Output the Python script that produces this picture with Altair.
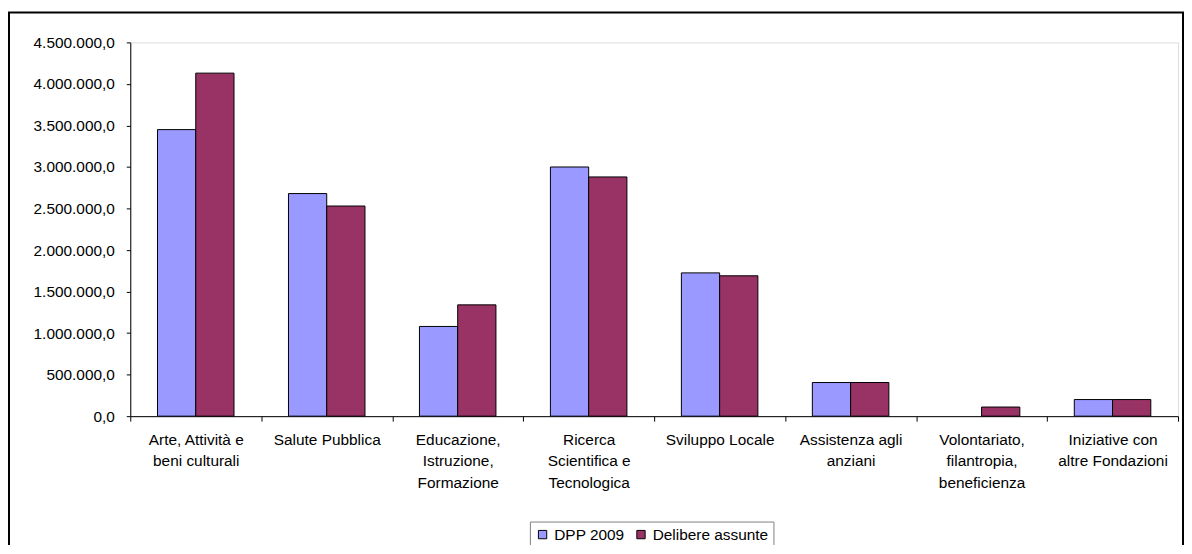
import altair as alt
import pandas as pd

categories = [
    "Arte, Attività e|beni culturali",
    "Salute Pubblica",
    "Educazione,|Istruzione,|Formazione",
    "Ricerca|Scientifica e|Tecnologica",
    "Sviluppo Locale",
    "Assistenza agli|anziani",
    "Volontariato,|filantropia,|beneficienza",
    "Iniziative con|altre Fondazioni",
]
series = ["DPP 2009", "Delibere assunte"]
dpp_2009 = [3450000, 2680000, 1080000, 3000000, 1725000, 405000, 0, 200000]
delibere = [4130000, 2530000, 1340000, 2880000, 1690000, 405000, 110000, 200000]
colors = ["#9999FF", "#993366"]
y_ticks = [0, 500000, 1000000, 1500000, 2000000, 2500000, 3000000, 3500000, 4000000, 4500000]

rows = []
for i, c in enumerate(categories):
    rows.append({"cat": c, "serie": series[0], "val": dpp_2009[i]})
    rows.append({"cat": c, "serie": series[1], "val": delibere[i]})
df = pd.DataFrame(rows)

W, H = 1054, 376
FONT = "Liberation Sans"

y_label = ("replace(replace(replace(format(datum.value, ',.1f'), '.', ';'), "
           "regexp(',', 'g'), '.'), ';', ',')")

bars = alt.Chart(df).transform_filter("datum.val > 0").mark_bar(
    stroke="black", strokeWidth=1
).encode(
    x=alt.X(
        "cat:N", sort=categories,
        scale=alt.Scale(domain=categories, paddingInner=0, paddingOuter=0),
        axis=alt.Axis(
            title=None, labelAngle=0, labelExpr="split(datum.label, '|')",
            labelFont=FONT, labelFontSize=15.5, labelColor="black",
            labelPadding=11, labelLineHeight=22, labelBaseline="top",
            tickBand="extent", tickSize=5, tickColor="black",
            domainColor="black", labelLimit=200,
        ),
    ),
    xOffset=alt.XOffset("serie:N", sort=series,
                        scale=alt.Scale(domain=series, paddingInner=0, paddingOuter=0.712)),
    y=alt.Y(
        "val:Q",
        scale=alt.Scale(domain=[0, 4500000], nice=False),
        axis=alt.Axis(
            title=None, values=y_ticks, labelExpr=y_label, grid=False,
            labelFont=FONT, labelFontSize=15.5, labelColor="black",
            labelPadding=12, tickSize=4, tickColor="black", domainColor="black",
        ),
    ),
    color=alt.Color(
        "serie:N", sort=series,
        scale=alt.Scale(domain=series, range=colors),
        legend=alt.Legend(
            title=None, orient="none", legendX=402, legendY=482,
            direction="horizontal", strokeColor="#808080", padding=5,
            symbolType="square", symbolSize=70, symbolStrokeColor="black",
            symbolStrokeWidth=1, labelFont=FONT, labelFontSize=15.5,
            labelColor="black", columnPadding=8,
        ),
    ),
)

frame = alt.Chart(pd.DataFrame({"a": [0]})).mark_rect(
    fill="transparent", stroke="black", strokeWidth=2
).encode(
    x=alt.value(-122), x2=alt.value(1059), y=alt.value(-30), y2=alt.value(H + 200)
)

chart = alt.layer(frame, bars).properties(
    width=W, height=H,
    padding={"left": 123, "top": 33, "right": 6, "bottom": 128},
    autosize=alt.AutoSizeParams(type="none"),
).configure_view(stroke="#808080", strokeWidth=1).configure(font=FONT)

chart.save("out.html", embed_options={"renderer": "svg", "actions": False})
